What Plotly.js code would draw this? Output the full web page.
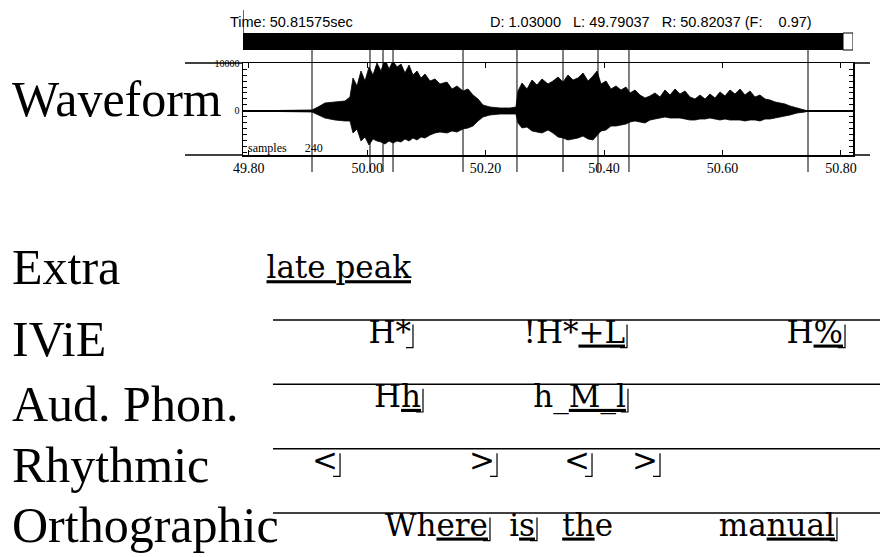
<!DOCTYPE html>
<html><head><meta charset="utf-8">
<script src="https://cdn.plot.ly/plotly-3.0.1.min.js"></script>
<style>html,body{margin:0;padding:0;background:#fff}#chart{width:880px;height:557px}</style>
</head><body><div id="chart"></div>
<script>
// ---- header / view values ----
const viewL = 49.79037, viewR = 50.82037, cursorTime = 50.81575, viewF = 0.97;

// ---- waveform envelope (seconds, sample amplitude) ----
const waveTime = [49.7904,49.9069,49.9170,49.9288,49.9457,49.9626,49.9710,49.9761,49.9829,49.9896,49.9964,50.0031,50.0099,50.0166,50.0234,50.0301,50.0369,50.0436,50.0504,50.0572,50.0639,50.0707,50.0774,50.0842,50.0909,50.0977,50.1061,50.1146,50.1230,50.1348,50.1433,50.1517,50.1618,50.1703,50.1787,50.1872,50.1956,50.2074,50.2243,50.2412,50.2513,50.2547,50.2615,50.2699,50.2784,50.2868,50.2952,50.3054,50.3138,50.3223,50.3307,50.3391,50.3476,50.3560,50.3645,50.3729,50.3813,50.3881,50.3949,50.4033,50.4117,50.4202,50.4286,50.4371,50.4438,50.4523,50.4607,50.4692,50.4776,50.4860,50.4945,50.5029,50.5114,50.5198,50.5282,50.5367,50.5451,50.5536,50.5620,50.5705,50.5789,50.5873,50.5958,50.6042,50.6127,50.6211,50.6296,50.6380,50.6464,50.6549,50.6633,50.6718,50.6802,50.6887,50.6971,50.7055,50.7140,50.7258,50.7393,50.7444,50.8204];
const waveUpper = [0,210,830,1670,1880,2080,2920,6880,5210,8330,6250,9170,7500,10000,8330,10830,8750,10420,9170,9790,7920,9580,7500,8330,6880,7710,6250,6670,5630,6040,4580,5210,4170,4580,3330,2500,1250,830,630,630,830,4170,5830,4580,6460,5420,6670,5630,6250,7080,6040,7500,6460,6880,7920,6250,7290,8330,5630,6250,4580,5210,4380,5000,3750,4380,3330,2710,3130,3750,2920,4380,3330,4580,3540,4170,2920,2500,3330,2500,3540,2710,3960,3130,4380,3540,4580,3330,4170,2920,3330,2500,2290,1880,1670,1460,1040,630,210,0,0];
const waveLower = [0,-210,-830,-1460,-1880,-2080,-2080,-4580,-3750,-6250,-5420,-7080,-5830,-6250,-6460,-6880,-6250,-6670,-6250,-6460,-5830,-6250,-5630,-6040,-5420,-5630,-5000,-4580,-4380,-4580,-4170,-4380,-3750,-3540,-3130,-2080,-1250,-830,-630,-630,-630,-2500,-3540,-3330,-4170,-4380,-4580,-3960,-4580,-5420,-5630,-6040,-5830,-5630,-5210,-5830,-6040,-5210,-4170,-3960,-3130,-3130,-2920,-2710,-2290,-2080,-2290,-2500,-1880,-1670,-1460,-1250,-1460,-1460,-1460,-1670,-1880,-1880,-1670,-1670,-1460,-1670,-1880,-1670,-1880,-1880,-1880,-2080,-1880,-1880,-2080,-1670,-1670,-1460,-1250,-1040,-830,-420,-210,0,0];

// ---- segment boundary marks in the waveform window ----
const boundaryTimes = [49.9069,50.0048,50.0268,50.0437,50.1619,50.2530,50.3307,50.3898,50.4421,50.7444];

// ---- axis ticks ----
const xTickVals = [49.8,50.0,50.2,50.4,50.6,50.8];
const xTickText = ["49.80","50.00","50.20","50.40","50.60","50.80"];
const yTickVals = [0,10000];
const yTickText = ["0","10000"];

// ---- annotation tiers ----
const tierNames = ["Extra","IViE","Aud. Phon.","Rhythmic","Orthographic"];
const tierHasLine = [false,true,true,true,true];
const tierLineStart = 49.8410, tierLineEnd = 50.8660;
const labelTier = [0,1,1,1,2,2,3,3,3,3,4,4,4,4];
const labelText = ["<u>late peak</u>","H*","!H*<u>+L</u>","H<u>%</u>","H<u>h</u>","h_<u>M_l</u>","&lt;","&gt;","&lt;","&gt;","Wh<u>ere</u>","i<u>s</u>","<u>th</u>e","ma<u>nual</u>"];
const labelEnd = [50.0774,50.0774,50.4388,50.8069,50.0943,50.4404,49.9542,50.2193,50.3797,50.4945,50.2074,50.2868,50.4185,50.7933];
const labelBracket = [false,true,true,true,true,true,true,true,true,true,true,true,false,true];

// ---------------- layout helpers (positions / styles) ----------------
const W = 880, H = 557;
const fy = p => 1 - p / H;
const PXS = 610 / (viewR - viewL);            // pixels per second of the window
const X0 = viewL - 243 / PXS, X1 = viewL + 637 / PXS;
const tierPx0 = 320, tierStep = 64.33;         // pixel row of tier 1 line and spacing
const vAtPx = p => 1 + (p - tierPx0) / tierStep;
const nameOffset = [0.17, 0.30, 0.30, 0.26, 0.18];
const labelOffset = 0.23;

const serif = "Liberation Serif, Times New Roman, serif";
const tierFont = "DejaVu Serif, serif";

// waveform polygon
const wx = waveTime.concat(waveTime.slice().reverse());
const wy = waveUpper.concat(waveLower.slice().reverse());

// tier lines
const tlx = [], tly = [];
tierNames.forEach((n, i) => { if (tierHasLine[i]) { tlx.push(tierLineStart, tierLineEnd, null); tly.push(i, i, null); } });

// brackets
const foot = 7 / PXS;
const bx = [], by = [];
labelEnd.forEach((e, k) => {
  if (!labelBracket[k]) return;
  const v = labelTier[k];
  bx.push(e - foot, e, e, null); by.push(v + 0.43, v + 0.43, v + 0.07, null);
});

const traces = [
  { x: wx, y: wy, type: 'scatter', mode: 'lines', fill: 'toself', fillcolor: '#000',
    line: { color: '#000', width: 0.8 }, xaxis: 'x', yaxis: 'y', hoverinfo: 'skip' },
  { x: tlx, y: tly, type: 'scatter', mode: 'lines', line: { color: '#000', width: 1.5 },
    xaxis: 'x2', yaxis: 'y2', hoverinfo: 'skip' },
  { x: bx, y: by, type: 'scatter', mode: 'lines', line: { color: '#000', width: 1.2 },
    xaxis: 'x2', yaxis: 'y2', hoverinfo: 'skip' },
  { x: labelEnd.map(e => e - 2 / PXS), y: labelTier.map(v => v + labelOffset), text: labelText,
    type: 'scatter', mode: 'text', textposition: 'middle left',
    textfont: { family: tierFont, size: 31, color: '#000' }, xaxis: 'x2', yaxis: 'y2', hoverinfo: 'skip' }
];

const shapes = [];
// overview bar
shapes.push({ type: 'rect', xref: 'x', yref: 'paper', x0: viewL, x1: viewR - 10 / PXS, y0: fy(50), y1: fy(33), fillcolor: '#000', line: { width: 0 } });
shapes.push({ type: 'rect', xref: 'x', yref: 'paper', x0: viewR - 10 / PXS, x1: viewR, y0: fy(50), y1: fy(33), fillcolor: '#fff', line: { color: '#000', width: 1 } });
shapes.push({ type: 'line', xref: 'x', yref: 'paper', x0: viewL, x1: viewL, y0: fy(50), y1: fy(10), line: { color: '#000', width: 1.2 } });
// boundary marks
boundaryTimes.forEach(t => shapes.push({ type: 'line', xref: 'x', yref: 'paper', x0: t, x1: t, y0: fy(172), y1: fy(50), line: { color: '#000', width: 1 } }));
// frame extensions
[63, 155].forEach(p => {
  shapes.push({ type: 'line', xref: 'paper', yref: 'paper', x0: 185 / W, x1: 243 / W, y0: fy(p), y1: fy(p), line: { color: '#000', width: 1.5 } });
  shapes.push({ type: 'line', xref: 'paper', yref: 'paper', x0: 853 / W, x1: 870 / W, y0: fy(p), y1: fy(p), line: { color: '#000', width: 1.5 } });
});

const annotations = [];
annotations.push({ text: 'Waveform', xref: 'paper', yref: 'paper', x: 10 / W, y: fy(98.5), xanchor: 'left', yanchor: 'middle', showarrow: false, font: { family: serif, size: 50, color: '#000' } });
tierNames.forEach((n, i) => annotations.push({ text: n, xref: 'paper', yref: 'y2', x: 10 / W, y: i + nameOffset[i], xanchor: 'left', yanchor: 'middle', showarrow: false, font: { family: serif, size: 50, color: '#000' } }));
const nb = '\u00a0';
annotations.push({ text: 'Time: ' + cursorTime.toFixed(5) + 'sec', xref: 'paper', yref: 'paper', x: 228 / W, y: fy(22), xanchor: 'left', yanchor: 'middle', showarrow: false, font: { family: 'Liberation Sans, Arial, sans-serif', size: 14.5, color: '#000' } });
annotations.push({ text: 'D: ' + (viewR - viewL).toFixed(5) + nb + nb + ' L: ' + viewL.toFixed(5) + nb + nb + ' R: ' + viewR.toFixed(5) + ' (F:' + nb + nb + nb + ' ' + viewF.toFixed(2) + ')', xref: 'paper', yref: 'paper', x: 488 / W, y: fy(22), xanchor: 'left', yanchor: 'middle', showarrow: false, font: { family: 'Liberation Sans, Arial, sans-serif', size: 14.5, color: '#000' } });
annotations.push({ text: 'samples' + nb + nb + nb + nb + nb + nb + '240', xref: 'paper', yref: 'paper', x: 246 / W, y: fy(148), xanchor: 'left', yanchor: 'middle', showarrow: false, font: { family: serif, size: 12, color: '#000' } });

const layout = {
  width: W, height: H, margin: { l: 0, r: 0, t: 0, b: 0 }, showlegend: false,
  paper_bgcolor: '#fff', plot_bgcolor: 'rgba(0,0,0,0)',
  xaxis: { domain: [243 / W, 853 / W], range: [viewL, viewR], anchor: 'y', showline: true, linecolor: '#000', linewidth: 1.5,
    mirror: 'allticks', ticks: 'inside', ticklen: 5, tickcolor: '#000', tickvals: xTickVals, ticktext: xTickText,
    tickfont: { family: serif, size: 14, color: '#000' }, showgrid: false, zeroline: false, fixedrange: true },
  yaxis: { domain: [fy(155), fy(63)], range: [-9170, 10000], anchor: 'x', showline: true, linecolor: '#000', linewidth: 1.5,
    mirror: 'allticks', ticks: 'inside', ticklen: 7, tickcolor: '#000', tickvals: yTickVals, ticktext: yTickText,
    tickfont: { family: serif, size: 10, color: '#000' }, minor: { ticks: 'inside', ticklen: 4, dtick: 1250, tickcolor: '#000', showgrid: false },
    showgrid: false, zeroline: true, zerolinecolor: '#000', zerolinewidth: 1.5, fixedrange: true },
  xaxis2: { domain: [0, 1], range: [X0, X1], anchor: 'y2', visible: false, fixedrange: true },
  yaxis2: { domain: [0, 0.6], range: [vAtPx(557), vAtPx(H * 0.4)], anchor: 'x2', visible: false, fixedrange: true },
  shapes: shapes, annotations: annotations
};

Plotly.newPlot('chart', traces, layout, { staticPlot: true, displayModeBar: false });
</script></body></html>
